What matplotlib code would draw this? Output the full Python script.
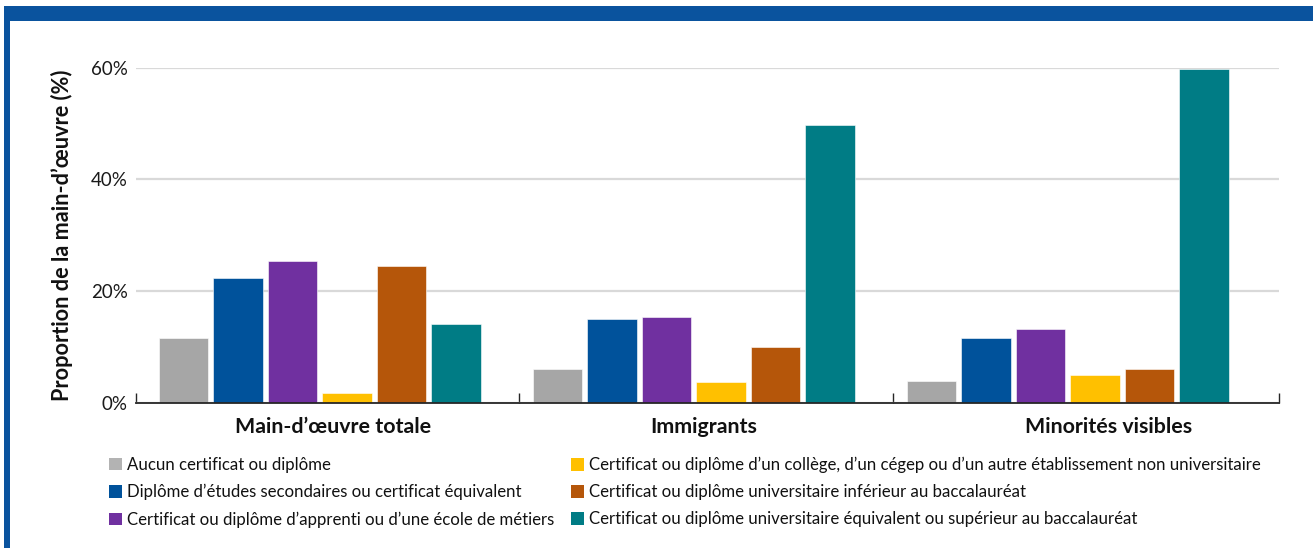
import matplotlib
matplotlib.use("Agg")
import matplotlib.pyplot as plt
import numpy as np
from matplotlib.patches import Rectangle, Patch

plt.rcParams['font.family'] = ['Lato', 'DejaVu Sans']

groups = ["Main-d\u2019\u0153uvre totale", "Immigrants", "Minorit\u00e9s visibles"]
series = [
    "Aucun certificat ou dipl\u00f4me",
    "Dipl\u00f4me d\u2019\u00e9tudes secondaires ou certificat \u00e9quivalent",
    "Certificat ou dipl\u00f4me d\u2019apprenti ou d\u2019une \u00e9cole de m\u00e9tiers",
    "Certificat ou dipl\u00f4me d\u2019un coll\u00e8ge, d\u2019un c\u00e9gep ou d\u2019un autre \u00e9tablissement non universitaire",
    "Certificat ou dipl\u00f4me universitaire inf\u00e9rieur au baccalaur\u00e9at",
    "Certificat ou dipl\u00f4me universitaire \u00e9quivalent ou sup\u00e9rieur au baccalaur\u00e9at",
]
values = [
    [11.6, 6.0, 3.9],
    [22.4, 15.0, 11.6],
    [25.4, 15.3, 13.3],
    [1.7, 3.7, 5.0],
    [24.5, 9.95, 6.0],
    [14.2, 49.7, 59.8],
]
colors = ["#A6A6A6", "#00529B", "#7030A0", "#FFC000", "#B5560A", "#007C85"]
legend_colors = ["#B3B3B3", "#00529B", "#7030A0", "#FFC000", "#B5560A", "#007C85"]
yticks = [0, 20, 40, 60]
ytick_labels = ["0%", "20%", "40%", "60%"]

W, H = 1313, 548
fig = plt.figure(figsize=(W / 100, H / 100), dpi=100)

# frame bands
fig.patches.append(Rectangle((4 / W, 0), 1 - 4 / W, 1 - 6 / H, transform=fig.transFigure,
                             facecolor="white", edgecolor="none", zorder=-2))
fig.patches.append(Rectangle((4 / W, 1 - 21 / H), 1 - 4 / W, 15 / H, transform=fig.transFigure,
                             facecolor="#0A539E", edgecolor="none", zorder=-1))
fig.patches.append(Rectangle((4 / W, 0), 6 / W, 1 - 6 / H, transform=fig.transFigure,
                             facecolor="#0A539E", edgecolor="none", zorder=-1))

ax = fig.add_axes([136 / W, 1 - 403 / H, (1279 - 136) / W, (403 - 67.7) / H])
ax.set_facecolor("none")

x = np.arange(len(groups))
step = 0.1457
width = 0.132
for i, (vals, c) in enumerate(zip(values, colors)):
    ax.bar(x + (i - 2.5) * step, vals, width=width, color=c, edgecolor="white",
           linewidth=0.4, zorder=3)

ax.set_xlim(-0.491, 2.565)
ax.set_ylim(0, 60)
ax.set_yticks(yticks)
ax.set_yticklabels(ytick_labels, fontsize=13.5, color="#1a1a1a")
ax.tick_params(axis="y", length=0, pad=6)
ax.grid(axis="y", color="#D9D9D9", linewidth=1.6, zorder=0)
ax.set_axisbelow(True)
for s in ["top", "right", "left"]:
    ax.spines[s].set_visible(False)
ax.spines["bottom"].set_color("#262626")
ax.spines["bottom"].set_linewidth(1.3)
ax.spines["bottom"].set_zorder(4)

sep = [-0.491, 0.533, 1.533, 2.565]
ax.set_xticks(sep)
ax.set_xticklabels([])
ax.tick_params(axis="x", direction="in", length=7, width=1, color="#262626")

label_offsets = [0.035, 0.028, 0.108]
for xi, g, off in zip(x, groups, label_offsets):
    ax.text(xi + off, -0.072, g, transform=ax.get_xaxis_transform(), ha="center", va="center",
            fontsize=15.4, fontweight="bold", color="#111111")

fig.text(62 / W, 1 - 235 / H, "Proportion de la main-d\u2019\u0153uvre (%)", rotation=90,
         ha="center", va="center", fontsize=15.6, fontweight="bold", color="#111111")

# legend in two columns
for col in range(2):
    handles = [Patch(facecolor=legend_colors[k], edgecolor="none") for k in range(col * 3, col * 3 + 3)]
    labels = series[col * 3: col * 3 + 3]
    xpos = [109 / W, 571 / W][col]
    leg = fig.legend(handles, labels, loc="upper left", bbox_to_anchor=(xpos, 1 - 457 / H),
                     frameon=False, fontsize=12.1, handlelength=0.75, handleheight=0.75,
                     handletextpad=0.3, labelspacing=0.65, borderaxespad=0, borderpad=0)
    for t in leg.get_texts():
        t.set_color("#111111")

fig.savefig("out.png", dpi=100)
